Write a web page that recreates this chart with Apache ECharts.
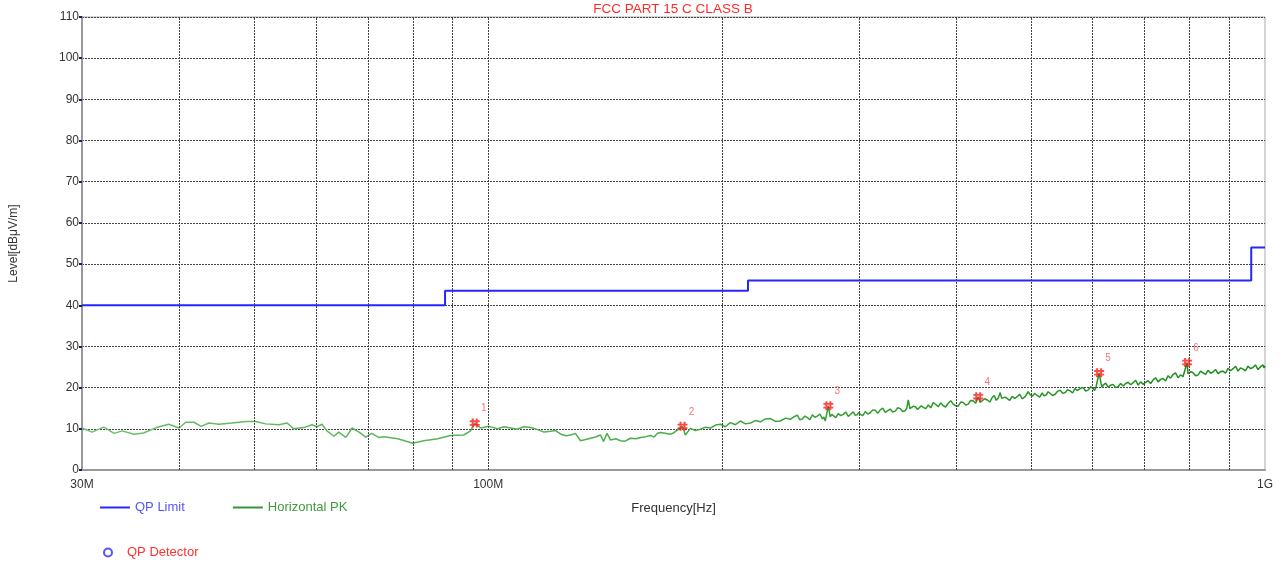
<!DOCTYPE html>
<html>
<head>
<meta charset="utf-8">
<script src="https://cdn.jsdelivr.net/npm/echarts@6/dist/echarts.min.js"></script>
<style>html,body{margin:0;padding:0;background:#fff}#c{width:1285px;height:564px}</style>
</head>
<body>
<div id="c"></div>
<script>
// ---- data (frequency in MHz, level in dBuV/m) ----
const titleText = 'FCC PART 15 C CLASS B';
const xTickValues = [30, 100, 1000];
const xTickLabels = ['30M', '100M', '1G'];
const xGridFreqs = [40, 50, 60, 70, 80, 90, 100, 200, 300, 400, 500, 600, 700, 800, 900];
const yMin = 0, yMax = 110, yStep = 10;

const limitData = [[30,40],[88,40],[88,43.5],[216,43.5],[216,46],[960,46],[960,54],[1000,54]];

const traceData = [
[30.0,10.2],[30.9,9.2],[32.0,10.4],[33.0,8.9],[33.8,9.5],[35.0,8.7],[36.0,9.0],[37.4,10.3],[38.8,11.1],[40.0,10.2],
[40.8,11.6],[41.8,11.6],[42.7,10.6],[43.7,11.4],[45.0,11.1],[46.8,11.4],[48.8,11.8],[50.2,11.8],[51.7,11.2],[53.8,11.0],
[55.1,11.4],[56.2,10.0],[57.9,10.3],[59.3,11.0],[60.2,10.5],[61.1,11.1],[62.0,9.5],[63.3,8.2],[64.2,9.2],[65.6,7.9],
[66.8,10.2],[68.2,9.2],[69.6,8.0],[70.8,8.9],[72.3,7.9],[73.4,8.1],[76.5,7.6],[80.0,6.5],[82.6,7.1],[86.1,7.6],
[89.5,8.4],[93.0,8.5],[94.9,9.5],[96.1,11.4],[97.8,10.2],[100.2,10.6],[102.8,10.0],[104.8,10.5],[106.9,10.2],[109.0,9.9],
[111.1,10.5],[113.5,10.3],[115.8,9.8],[118.0,9.2],[120.3,9.4],[122.0,9.6],[124.0,8.7],[126.0,8.3],[127.7,8.5],[129.5,8.9],
[131.5,7.1],[133.5,7.4],[135.5,7.7],[137.5,8.0],[139.5,8.5],[140.8,6.9],[142.2,8.9],[143.7,7.3],[146.0,7.6],[148.0,7.1],
[150.0,7.0],[152.5,7.7],[155.0,7.6],[157.1,7.9],[159.5,8.1],[161.8,8.4],[163.5,8.0],[165.2,8.9],[166.7,9.1],[171.7,8.7],
[173.2,9.0],[177.9,10.6],[179.4,8.5],[182.1,10.1],[184.8,9.6],[187.6,9.9],[190.4,10.4],[193.3,10.2],[196.2,10.9],[199.1,11.1],
[202.0,10.5],[205.0,11.5],[208.1,11.0],[211.2,11.9],[214.4,11.2],[217.6,11.4],[220.8,12.0],[224.1,11.7],[227.5,12.4],[230.9,12.5],
[234.3,11.8],[237.8,11.9],[241.4,12.6],[244.9,12.3],[247.4,12.9],[250.0,13.3],[251.9,12.2],[253.8,12.4],[255.7,13.1],[257.6,12.7],
[259.5,12.2],[261.4,13.4],[263.3,12.8],[265.3,13.1],[267.3,13.6],[269.3,12.4],[270.5,12.9],[271.6,11.9],[274.1,15.6],[275.6,12.9],
[276.9,13.5],[278.2,13.1],[280.2,12.7],[282.3,13.7],[284.4,13.2],[286.5,13.5],[288.6,14.1],[290.8,13.0],[293.0,13.6],[295.1,14.1],
[296.8,13.3],[298.6,13.4],[300.0,14.0],[301.3,13.5],[303.5,13.2],[305.8,14.2],[308.1,13.6],[310.4,13.9],[312.7,14.6],[315.0,14.5],
[317.4,13.8],[319.7,14.6],[322.1,15.0],[324.5,14.0],[326.9,14.4],[329.3,14.8],[331.7,14.1],[334.2,14.3],[336.7,15.1],[339.2,14.9],
[341.7,14.2],[344.2,14.4],[345.8,15.0],[347.4,17.0],[349.0,14.9],[350.6,14.6],[352.8,15.5],[355.0,15.3],[357.0,14.7],[358.9,14.7],
[361.0,15.6],[363.2,15.2],[365.9,14.9],[368.6,15.8],[371.3,15.1],[374.1,16.4],[376.9,15.9],[379.7,15.4],[382.5,16.3],[385.3,15.6],
[388.1,15.3],[391.0,16.2],[393.9,16.8],[396.9,16.0],[399.8,15.6],[402.8,15.5],[405.8,16.5],[408.8,16.4],[411.8,15.8],[414.9,16.0],
[417.9,16.9],[421.0,16.8],[424.2,16.2],[427.4,17.8],[429.9,16.4],[432.4,16.6],[435.7,17.3],[439.0,17.0],[442.2,16.5],[445.5,17.6],
[448.2,18.1],[450.9,16.9],[453.5,17.5],[456.2,18.8],[458.2,17.4],[460.3,17.0],[463.0,17.7],[465.7,17.3],[469.2,16.9],[472.7,17.9],
[476.2,17.4],[479.7,17.8],[483.2,18.4],[486.8,17.3],[491.2,17.8],[495.6,19.0],[498.5,18.3],[501.5,17.9],[505.2,18.6],[509.0,18.1],
[512.8,17.7],[516.6,18.7],[519.6,18.0],[522.7,18.2],[525.8,19.0],[528.9,18.8],[532.8,18.1],[536.8,18.4],[540.8,19.1],[544.9,19.4],
[549.0,18.6],[553.0,18.8],[557.1,19.5],[561.2,19.2],[565.4,18.7],[569.6,19.8],[572.9,19.3],[576.3,19.1],[579.8,19.9],[583.3,20.0],
[587.6,19.2],[592.0,19.4],[596.4,20.2],[600.8,19.8],[603.5,19.3],[606.2,20.3],[611.6,23.6],[615.3,20.9],[617.1,20.1],[619.0,20.6],
[623.6,21.1],[628.2,20.1],[632.8,20.6],[637.5,20.8],[642.2,20.0],[647.0,20.2],[651.8,21.0],[656.7,20.4],[661.6,21.0],[666.5,21.3],
[671.5,20.7],[676.5,21.2],[681.5,21.8],[686.6,20.6],[691.7,21.4],[696.8,20.8],[702.0,21.3],[707.2,21.7],[712.5,21.0],[717.8,21.9],
[723.1,22.4],[728.5,21.4],[733.8,22.0],[739.2,22.2],[744.7,21.6],[750.3,22.9],[755.8,22.3],[761.4,23.2],[767.1,23.6],[772.8,22.4],
[778.6,23.1],[784.4,22.7],[789.0,22.3],[793.8,26.1],[796.0,23.4],[798.5,23.0],[803.2,23.9],[808.0,23.6],[814.0,22.9],[820.0,23.1],
[826.1,24.0],[832.3,23.6],[838.5,23.2],[844.7,24.2],[851.0,23.5],[857.3,23.8],[863.7,24.4],[870.1,23.4],[876.6,23.9],[883.1,24.0],
[889.7,23.5],[896.3,24.7],[903.0,24.1],[909.7,24.6],[916.5,25.2],[923.3,24.0],[930.1,24.8],[936.9,24.5],[944.0,24.1],[951.0,25.2],
[958.0,24.6],[965.0,24.9],[972.2,25.5],[979.5,24.4],[986.8,25.1],[994.1,25.5],[997.0,24.8],[1000,25.3]
];

const peakData = [[96.1,11.4],[177.9,10.6],[274.1,15.6],[427.4,17.8],[611.6,23.6],[793.8,26.1]];
const peakLabels = ['1','2','3','4','5','6'];

// ---- chart ----
const FONT = '"Liberation Sans", Arial, sans-serif';
const chart = echarts.init(document.getElementById('c'));
const hashSymbol = 'path://M0,2H10V4H0Z M0,6H10V8H0Z M2,0H4V10H2Z M6,0H8V10H6Z';

chart.setOption({
  animation: false,
  backgroundColor: '#fff',
  textStyle: { fontFamily: FONT },
  title: {
    text: titleText, left: 668, top: -3, textAlign: 'center',
    textStyle: { color: '#ff2a2a', fontSize: 13.5, fontWeight: 'normal', fontFamily: FONT }
  },
  grid: { left: 81, right: 20, top: 17, bottom: 94, show: true, borderColor: '#aaa', borderWidth: 1 },
  legend: [
    {
      left: 95, top: 496, itemWidth: 30, itemHeight: 2, itemGap: 48, icon: 'rect',
      textStyle: { fontSize: 13, fontFamily: FONT },
      data: [
        { name: 'QP Limit', textStyle: { color: '#5555ff' } },
        { name: 'Horizontal PK', textStyle: { color: '#3f9a3f' } }
      ],
      selectedMode: false
    },
    {
      left: 98, top: 541, itemWidth: 28, itemHeight: 8, itemGap: 10,
      textStyle: { fontSize: 13, fontFamily: FONT },
      data: [
        { name: 'QP Detector', icon: 'circle', itemStyle: { color: '#fff', borderColor: '#2a2aff', borderWidth: 2 }, textStyle: { color: '#ff3030' } }
      ],
      selectedMode: false
    }
  ],
  xAxis: {
    type: 'log', logBase: 10, min: 30, max: 1000,
    name: 'Frequency[Hz]', nameLocation: 'middle', nameGap: 32,
    nameTextStyle: { color: '#333', fontSize: 13, fontFamily: FONT },
    axisLine: { show: true, lineStyle: { color: '#999', width: 2 } },
    axisTick: { show: false },
    splitLine: { show: false },
    axisLabel: {
      color: '#333', fontSize: 12, margin: 9, showMinLabel: true, showMaxLabel: true,
      formatter: function (v) {
        for (let i = 0; i < xTickValues.length; i++) {
          if (Math.abs(v - xTickValues[i]) / xTickValues[i] < 0.01) return xTickLabels[i];
        }
        return '';
      }
    }
  },
  yAxis: {
    type: 'value', min: yMin, max: yMax, interval: yStep,
    name: 'Level[dBμV/m]', nameLocation: 'middle', nameGap: 62,
    nameTextStyle: { color: '#333', fontSize: 12, fontFamily: FONT },
    axisLine: { show: true, lineStyle: { color: '#999', width: 2 } },
    axisTick: { show: true, length: 3, lineStyle: { color: '#1a1a66', width: 2 } },
    axisLabel: { color: '#333', fontSize: 12, margin: 3 },
    splitLine: { show: true, lineStyle: { color: '#444', type: [2, 1], width: 1 } }
  },
  series: [
    {
      name: 'grid', type: 'line', data: [], silent: true,
      markLine: {
        silent: true, symbol: 'none', label: { show: false },
        lineStyle: { color: '#444', type: [2, 1], width: 1 },
        data: xGridFreqs.map(f => ({ xAxis: f }))
      }
    },
    {
      name: 'QP Limit', type: 'line', data: limitData, showSymbol: false,
      lineStyle: { color: '#2626ff', width: 2 }, itemStyle: { color: '#2626ff' }, z: 3
    },
    {
      name: 'Horizontal PK', type: 'line', data: traceData, showSymbol: false,
      lineStyle: {
        width: 1.5,
        color: new echarts.graphic.LinearGradient(0, 0, 1, 0, [
          { offset: 0, color: '#6cbf6c' },
          { offset: 0.45, color: '#4fae4f' },
          { offset: 0.7, color: '#2a9a2a' },
          { offset: 1, color: '#1e8a1e' }
        ])
      },
      itemStyle: { color: '#33963a' }, z: 4
    },
    {
      name: 'QP Detector', type: 'scatter', data: [],
      symbol: 'emptyCircle', itemStyle: { color: '#2a2aff' }
    },
    {
      name: 'Peaks', type: 'scatter', z: 5,
      data: peakData.map((p, i) => ({ value: p, label: { formatter: peakLabels[i] } })),
      symbol: hashSymbol, symbolSize: [10, 9],
      itemStyle: { color: '#ff1a1a' },
      label: { show: true, position: 'top', offset: [9, 0], color: '#ff5050', fontSize: 10, fontFamily: FONT }
    }
  ]
});
</script>
</body>
</html>
